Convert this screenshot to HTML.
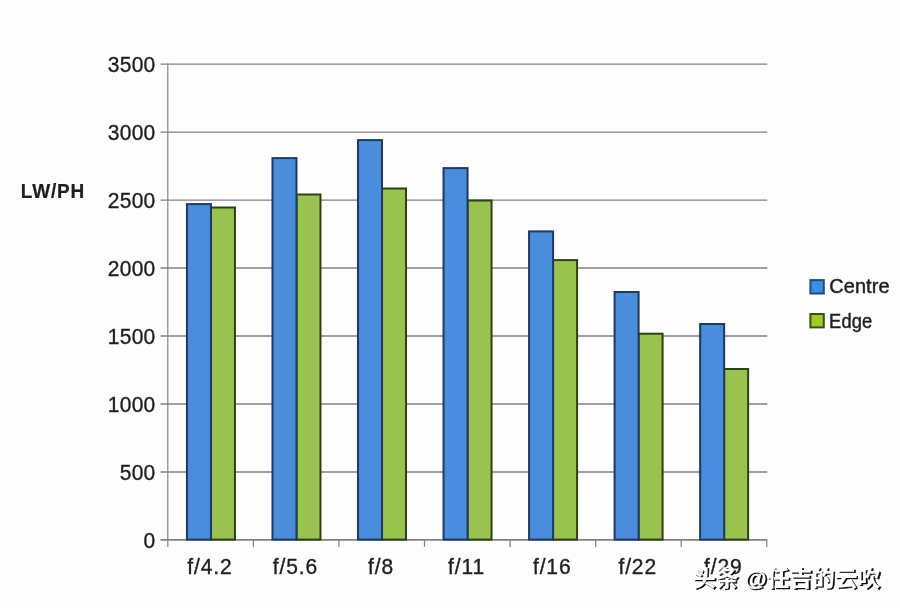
<!DOCTYPE html><html><head><meta charset="utf-8"><title>LW/PH chart</title><style>
html,body{margin:0;padding:0;background:#fdfdfd;}
body{width:900px;height:608px;overflow:hidden;}
svg{display:block;will-change:transform;}
text{font-family:"Liberation Sans",sans-serif;fill:#1f1f1f;stroke:#1f1f1f;stroke-width:0.35px;letter-spacing:0.3px;}
</style></head><body>
<svg width="900" height="608" viewBox="0 0 900 608">
<rect width="900" height="608" fill="#fdfdfd"/>
<g stroke="#828282" fill="none">
<line x1="160.5" y1="539.90" x2="767.3" y2="539.90" stroke-width="1.7"/>
<line x1="160.5" y1="471.94" x2="767.3" y2="471.94" stroke-width="1.4"/>
<line x1="160.5" y1="403.98" x2="767.3" y2="403.98" stroke-width="1.4"/>
<line x1="160.5" y1="336.02" x2="767.3" y2="336.02" stroke-width="1.4"/>
<line x1="160.5" y1="268.05" x2="767.3" y2="268.05" stroke-width="1.4"/>
<line x1="160.5" y1="200.09" x2="767.3" y2="200.09" stroke-width="1.4"/>
<line x1="160.5" y1="132.13" x2="767.3" y2="132.13" stroke-width="1.4"/>
<line x1="160.5" y1="64.17" x2="767.3" y2="64.17" stroke-width="1.4"/>
<line x1="167.8" y1="63.6" x2="167.8" y2="546.9" stroke-width="1.2"/>
<line x1="253.4" y1="539.9" x2="253.4" y2="546.9" stroke-width="1.2"/>
<line x1="338.9" y1="539.9" x2="338.9" y2="546.9" stroke-width="1.2"/>
<line x1="424.5" y1="539.9" x2="424.5" y2="546.9" stroke-width="1.2"/>
<line x1="510.1" y1="539.9" x2="510.1" y2="546.9" stroke-width="1.2"/>
<line x1="595.7" y1="539.9" x2="595.7" y2="546.9" stroke-width="1.2"/>
<line x1="681.2" y1="539.9" x2="681.2" y2="546.9" stroke-width="1.2"/>
<line x1="766.8" y1="539.9" x2="766.8" y2="546.9" stroke-width="1.2"/>
</g>
<g font-size="21" text-anchor="end">
<text transform="translate(155.6 547.6) scale(1 1.04)">0</text>
<text transform="translate(155.6 479.6) scale(1 1.04)">500</text>
<text transform="translate(155.6 411.7) scale(1 1.04)">1000</text>
<text transform="translate(155.6 343.7) scale(1 1.04)">1500</text>
<text transform="translate(155.6 275.8) scale(1 1.04)">2000</text>
<text transform="translate(155.6 207.8) scale(1 1.04)">2500</text>
<text transform="translate(155.6 139.8) scale(1 1.04)">3000</text>
<text transform="translate(155.6 71.9) scale(1 1.04)">3500</text>
</g>
<rect x="210.95" y="207.50" width="24.00" height="332.10" fill="#99c24e" stroke="#2c4214" stroke-width="2.0"/>
<rect x="186.95" y="204.10" width="24.00" height="335.50" fill="#4a8ddc" stroke="#1b3b66" stroke-width="2.0"/>
<rect x="296.48" y="194.50" width="24.00" height="345.10" fill="#99c24e" stroke="#2c4214" stroke-width="2.0"/>
<rect x="272.48" y="158.10" width="24.00" height="381.50" fill="#4a8ddc" stroke="#1b3b66" stroke-width="2.0"/>
<rect x="382.01" y="188.50" width="24.00" height="351.10" fill="#99c24e" stroke="#2c4214" stroke-width="2.0"/>
<rect x="358.01" y="140.10" width="24.00" height="399.50" fill="#4a8ddc" stroke="#1b3b66" stroke-width="2.0"/>
<rect x="467.54" y="200.50" width="24.00" height="339.10" fill="#99c24e" stroke="#2c4214" stroke-width="2.0"/>
<rect x="443.54" y="168.10" width="24.00" height="371.50" fill="#4a8ddc" stroke="#1b3b66" stroke-width="2.0"/>
<rect x="553.07" y="260.10" width="24.00" height="279.50" fill="#99c24e" stroke="#2c4214" stroke-width="2.0"/>
<rect x="529.07" y="231.40" width="24.00" height="308.20" fill="#4a8ddc" stroke="#1b3b66" stroke-width="2.0"/>
<rect x="638.60" y="333.70" width="24.00" height="205.90" fill="#99c24e" stroke="#2c4214" stroke-width="2.0"/>
<rect x="614.60" y="292.00" width="24.00" height="247.60" fill="#4a8ddc" stroke="#1b3b66" stroke-width="2.0"/>
<rect x="724.13" y="369.00" width="24.00" height="170.60" fill="#99c24e" stroke="#2c4214" stroke-width="2.0"/>
<rect x="700.13" y="324.00" width="24.00" height="215.60" fill="#4a8ddc" stroke="#1b3b66" stroke-width="2.0"/>
<g font-size="21" text-anchor="middle">
<text transform="translate(209.9 574.1) scale(1 1.04)" style="letter-spacing:0.9px">f/4.2</text>
<text transform="translate(295.5 574.1) scale(1 1.04)" style="letter-spacing:0.9px">f/5.6</text>
<text transform="translate(381.0 574.1) scale(1 1.04)" style="letter-spacing:0.9px">f/8</text>
<text transform="translate(466.6 574.1) scale(1 1.04)" style="letter-spacing:0.9px">f/11</text>
<text transform="translate(552.2 574.1) scale(1 1.04)" style="letter-spacing:0.9px">f/16</text>
<text transform="translate(637.7 574.1) scale(1 1.04)" style="letter-spacing:0.9px">f/22</text>
<text transform="translate(723.3 574.1) scale(1 1.04)" style="letter-spacing:0.9px">f/29</text>
</g>
<text transform="translate(20.8 197.6) scale(1 1.04)" font-size="19" font-weight="bold" style="letter-spacing:0.8px;stroke-width:0.2px">LW/PH</text>
<rect x="810.4" y="280.1" width="13.4" height="13.4" fill="#3c8ce8" stroke="#234a80" stroke-width="2"/>
<text transform="translate(829.3 293.4) scale(1 1.04)" font-size="20" style="stroke-width:0.45px;letter-spacing:0.05px">Centre</text>
<rect x="810.4" y="314.0" width="13.4" height="13.4" fill="#9fcb22" stroke="#3b5019" stroke-width="2"/>
<text transform="translate(829.0 327.5) scale(0.915 1.04)" font-size="20" style="stroke-width:0.45px;letter-spacing:0.2px">Edge</text>
<text x="694.6" y="587.2" font-size="22" font-weight="bold" textLength="187" lengthAdjust="spacingAndGlyphs" style="font-family:'Liberation Sans','Noto Sans CJK SC',sans-serif;fill:#0c0c0c;stroke:#0c0c0c;stroke-width:0.5px;letter-spacing:0">头条 @任吉的云吹</text>
<text x="693" y="585.6" font-size="22" font-weight="bold" textLength="187" lengthAdjust="spacingAndGlyphs" style="font-family:'Liberation Sans','Noto Sans CJK SC',sans-serif;fill:#ffffff;stroke:#ffffff;stroke-width:0.2px;letter-spacing:0">头条 @任吉的云吹</text>
</svg></body></html>
